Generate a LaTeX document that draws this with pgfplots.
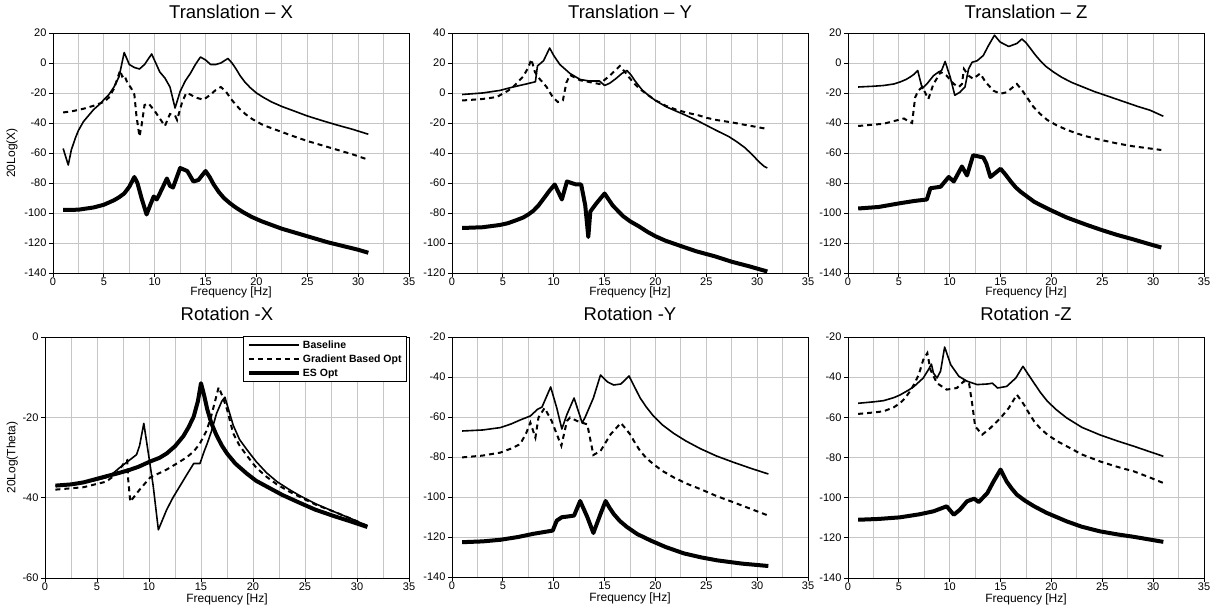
\documentclass[border=0pt]{standalone}
\usepackage{fontspec}
\setmainfont{Liberation Sans}
\usepackage{pgfplots}
\pgfplotsset{compat=1.18}

\pgfplotsset{
  frf/.style={
    scale only axis, anchor=south west,
    width=356pt, height=240pt,
    xmin=0, xmax=35, xtick={0,5,...,35},
    minor x tick num=1,
    grid=both,
    major grid style={gray!45, line width=0.8pt},
    minor grid style={gray!45, line width=0.8pt},
    axis line style={black, line width=0.9pt},
    tick align=outside, tick pos=left,
    major tick length=4pt, minor tick length=0pt,
    tick style={black, line width=0.8pt},
    ticklabel style={font=\fontsize{11}{12}\selectfont},
    /pgf/number format/assume math mode=true,
    xticklabel style={yshift=3pt},
    yticklabel style={xshift=1pt},
    xlabel={Frequency [Hz]},
    xlabel style={font=\fontsize{12}{13}\selectfont, at={(axis description cs:0.5,-0.08)}, anchor=center},
    ylabel style={font=\fontsize{12}{13}\selectfont, anchor=center},
    title style={font=\fontsize{18.5}{20}\selectfont, at={(axis description cs:0.5,1.065)}, anchor=center},
  },
  base/.style={black, line width=1.6pt, line join=round},
  grad/.style={black, line width=2pt, dash pattern=on 5pt off 4pt},
  es/.style={black, line width=4pt, line join=round},
}

\begin{document}
\begin{tikzpicture}
\path[use as bounding box] (0,0) rectangle (1214pt,610pt);

% Translation - X
\begin{axis}[frf, at={(53pt,337pt)},
    ymin=-140, ymax=20, ytick={-140,-120,...,20},
    title={Translation -- X},
    ylabel={20Log(X)},
    ylabel style={at={(axis description cs:-0.115,0.5)}}]
\addplot[base] coordinates {
 (1,-57) (1.5,-68) (1.8,-58) (2.2,-50) (2.5,-45) (3,-39) (3.5,-35) (4,-31) (4.5,-28)
 (5,-24.5) (5.5,-21) (6,-16) (6.5,-9) (7,7) (7.5,-1) (8,-3) (8.5,-4) (9,-1) (9.7,6)
 (10.5,-6) (11,-10) (11.5,-16) (12,-30) (12.5,-19) (13,-12) (13.5,-7) (14,-1) (14.5,4)
 (15,2) (15.5,-1) (16,-1) (16.5,0) (17.2,3) (17.6,0) (18,-4) (18.4,-8.5) (18.9,-13)
 (19.4,-16.5) (20,-20) (20.7,-23) (21.5,-26) (22.5,-29) (23.5,-31.5) (25,-35.3)
 (26.5,-38.5) (28,-41.5) (29.5,-44.3) (31,-47.5)
};
\addplot[grad] coordinates {
 (1,-33) (2,-32) (3,-30.5) (4,-28.5) (5,-26) (5.5,-23) (6,-17) (6.3,-11) (6.6,-5)
 (6.8,-9) (7,-8) (7.3,-13) (7.7,-17) (8,-21) (8.2,-35) (8.5,-49) (8.7,-42) (9,-28)
 (9.4,-27) (10,-32) (10.5,-37) (11,-42) (11.5,-34) (12,-35) (12.2,-38) (12.7,-26)
 (13.1,-20) (13.5,-21) (14,-23) (14.8,-24.5) (15.5,-21) (16,-18) (16.5,-16) (17,-19)
 (17.5,-24) (18,-28) (18.4,-31) (19,-34.5) (19.5,-37) (20,-39) (20.7,-41.5) (21.5,-43.5)
 (22.5,-46) (23.5,-48.5) (25,-52) (26.5,-55) (28,-58) (29.5,-61) (31,-64.5)
};
\addplot[es] coordinates {
 (1,-98) (2.5,-97.8) (4,-96.3) (5,-94.5) (5.5,-93) (6,-91.5) (6.5,-89.5) (7,-87)
 (7.5,-82.5) (8,-76) (8.3,-80) (8.7,-90) (9.2,-101) (9.6,-94) (9.9,-89) (10.2,-91)
 (10.5,-87) (11.2,-77) (11.5,-82) (11.8,-83) (12.5,-70) (13.2,-72) (13.8,-79) (14.3,-78)
 (15,-72) (15.4,-76) (15.8,-81) (16.3,-86) (16.8,-90) (17.4,-93.5) (18,-96.5) (18.7,-99.5)
 (19.5,-102.5) (20.5,-105.5) (21.5,-108) (22.5,-110.5) (24,-113.5) (25.5,-116.5)
 (27,-119.5) (28.5,-122) (30,-124.5) (31,-126.5)
};
\end{axis}

% Translation - Y
\begin{axis}[frf, at={(452pt,337pt)},
    ymin=-120, ymax=40, ytick={-120,-100,...,40},
    title={Translation -- Y}]
\addplot[base] coordinates {
 (1,-1) (3,0) (4.7,1.7) (6,4) (7.3,6) (8.2,7.5) (8.4,18) (9,21.5) (9.6,30) (10,25)
 (10.6,19) (11.6,13) (12.6,9) (13.5,8) (14.5,8) (15,5) (15.5,6.5) (16.1,9.5) (16.7,13)
 (17.2,15) (17.6,12) (18,8) (18.4,4.5) (18.7,2) (19.3,-1.5) (20,-5) (21,-9) (22,-12)
 (22.7,-14) (24,-18) (25,-21.5) (26,-25) (27.2,-29) (28,-32.5) (28.8,-36.5) (29.5,-41)
 (30.2,-46) (30.7,-49) (31,-50)
};
\addplot[grad] coordinates {
 (1,-5) (3,-4) (4.4,-2.7) (5.5,1.5) (6,4) (7,11) (7.5,17) (7.8,22.5) (8.15,14) (8.6,9.5)
 (9.3,4) (9.9,-2.7) (10.4,-6) (10.9,-5) (11.25,7) (11.6,12) (12.6,8.5) (14.5,6)
 (15.5,11.5) (16.5,18) (17,14) (17.4,10.5) (17.9,6.5) (18.4,3) (19,0) (19.5,-2.5)
 (20,-5) (20.5,-6.5) (21,-8.5) (22,-11) (23,-13) (24.3,-15) (25,-16.5) (26,-18)
 (27.6,-19.7) (29,-21.5) (30,-22.7) (31,-24)
};
\addplot[es] coordinates {
 (1,-90) (3,-89.5) (4.7,-88) (5.5,-86.8) (6.4,-84.6) (7,-83) (7.5,-81) (8,-78.5)
 (8.5,-75) (9,-70.5) (9.6,-65) (10.1,-61) (10.8,-71) (11.3,-59) (12.2,-61) (12.7,-61)
 (13.1,-75) (13.4,-96) (13.6,-79) (14.2,-73.5) (15,-67) (15.4,-71) (15.8,-75) (16.3,-78.5)
 (16.8,-82) (17.5,-85.5) (18.4,-89) (19.2,-92.5) (20,-95.5) (21,-98.5) (22.7,-102.5)
 (24,-105.5) (25.9,-109) (27.5,-112.5) (29.2,-115.5) (31,-119)
};
\end{axis}

% Translation - Z
\begin{axis}[frf, at={(848pt,337pt)},
    ymin=-140, ymax=20, ytick={-140,-120,...,20},
    title={Translation -- Z}]
\addplot[base] coordinates {
 (1,-16) (2.5,-15.5) (3.5,-15) (4.5,-14) (5.1,-12.7) (5.7,-11) (6.1,-9.4) (6.5,-7.5)
 (6.85,-5) (7.3,-17) (7.75,-14) (8.4,-8.5) (8.9,-6) (9.2,-5) (9.55,1) (10.05,-9.5)
 (10.5,-21.5) (11,-19.5) (11.5,-16) (11.85,-4) (12.2,0.5) (12.7,1.5) (13.3,5) (13.8,11.5)
 (14.4,18.5) (14.95,14) (15.8,11) (16.6,13) (17.1,16) (17.5,13.5) (17.9,10) (18.4,5.5)
 (18.9,1.5) (19.5,-2.5) (20.2,-6) (21,-9.5) (22,-13) (23.1,-16) (24.2,-19) (25.5,-22)
 (27,-25.5) (28.5,-29) (29.7,-31.5) (31,-35.5)
};
\addplot[grad] coordinates {
 (1,-42) (3.5,-40.5) (5.5,-37) (6.1,-39.5) (6.3,-40) (6.6,-23) (6.9,-18.5) (7.3,-16)
 (7.9,-24) (8.4,-14) (8.9,-8.5) (9.1,-6) (9.7,-8.5) (10.4,-14) (10.9,-16) (11.2,-14)
 (11.4,-4) (11.85,-8.5) (12.3,-10.5) (13,-7) (13.5,-12.5) (14.3,-18.5) (15,-20.5)
 (15.6,-19.5) (16.6,-14) (17.1,-18) (17.6,-23) (18.2,-29) (18.9,-34) (19.6,-38)
 (20.5,-41.5) (21.5,-44.5) (22.5,-47) (23.5,-49) (25,-51.5) (26.5,-53.7) (28,-55.5)
 (29.7,-57) (30.8,-58)
};
\addplot[es] coordinates {
 (1,-97) (3,-96) (5.1,-93.5) (6.5,-92) (7.75,-91) (8.1,-83.5) (9.1,-82.5) (9.9,-76)
 (10.4,-79) (11.2,-69) (11.7,-75) (12.3,-61.5) (13.3,-63) (13.6,-67) (14,-76) (15,-70.5)
 (15.5,-74.5) (16,-79) (16.5,-83) (17,-86) (17.6,-89) (18.3,-92.5) (19,-95) (19.9,-98)
 (20.7,-100.5) (21.5,-103) (22.5,-105.5) (23.5,-108) (25,-111.5) (26.4,-114.5)
 (28,-117.5) (29.5,-120.5) (30.8,-123)
};
\end{axis}

% Rotation - X
\begin{axis}[frf, at={(45pt,32pt)}, width=364pt, height=241pt,
    ymin=-60, ymax=0, ytick={-60,-40,...,0},
    title={Rotation -X},
    title style={at={(axis description cs:0.5,1.07)}},
    xlabel style={at={(axis description cs:0.5,-0.088)}},
    ylabel={20Log(Theta)},
    ylabel style={at={(axis description cs:-0.09,0.5)}},
    legend style={at={(axis description cs:1,1)}, anchor=north east, xshift=-2pt, yshift=1pt,
      draw=black, line width=0.9pt, fill=white,
      font=\bfseries\fontsize{10.5}{11.5}\selectfont,
      inner xsep=3pt, inner ysep=2pt, row sep=1pt},
    legend cell align=left,
    legend image code/.code={\draw[#1] (0pt,0pt) -- (50pt,0pt);}]
\addplot[base] coordinates {
 (1,-37) (2.5,-36.8) (3.7,-36.3) (5,-35.6) (5.9,-35) (6.6,-33.8) (7.2,-32.5) (8.2,-30.5)
 (8.8,-29.3) (9.1,-27) (9.5,-21.5) (10,-30) (10.4,-37) (10.9,-48) (11.3,-45.5) (11.7,-43)
 (12.3,-40) (13,-37) (13.7,-34) (14.3,-31.5) (14.9,-31.5) (15.3,-28.5) (15.6,-26.5)
 (16,-23.5) (16.5,-19) (17,-16) (17.3,-15) (17.7,-18.5) (18.1,-22) (18.7,-25.5)
 (19.4,-28) (20.3,-31) (21.3,-33.8) (22.3,-36) (23.5,-38) (24.5,-39.5) (26,-41.5)
 (27.8,-43.5) (29.5,-45.3) (31,-47)
};
\addlegendentry{Baseline}
\addplot[grad] coordinates {
 (1,-38) (3.7,-37.4) (5.9,-36) (6.9,-34) (7.7,-31) (7.9,-30.7) (8,-35.5) (8.2,-41)
 (9.1,-38) (10.1,-35) (11.7,-33) (12.8,-31.3) (13.6,-30) (14.3,-28.5) (14.9,-26.5)
 (15.5,-23.5) (15.9,-20.5) (16.3,-16.5) (16.7,-12.5) (17.1,-15) (17.5,-18) (18.1,-24)
 (18.7,-27) (19.4,-29.5) (20.3,-32.5) (21.3,-34.8) (22.3,-36.7) (23.5,-38.5) (24.5,-39.8)
 (26,-41.7) (27.8,-43.5) (29.5,-45.3) (31,-47)
};
\addlegendentry{Gradient Based Opt}
\addplot[es] coordinates {
 (1,-37) (2.5,-36.7) (3.7,-36.2) (5,-35.3) (6,-34.6) (6.9,-34) (8,-33.2) (9,-32.3)
 (10.1,-31) (11,-30.1) (11.7,-29) (12.5,-27.2) (13.3,-24.7) (13.8,-22.5) (14.3,-19.8)
 (14.7,-16) (15,-11.5) (15.3,-14.5) (15.6,-18) (16,-21.5) (16.5,-24.5) (17,-27)
 (17.5,-29) (18.3,-31.5) (19.4,-34) (20.3,-35.8) (21.3,-37.2) (22.8,-39.3) (24.5,-41.3)
 (26,-43) (27.8,-44.6) (29.5,-46) (31,-47.3)
};
\addlegendentry{ES Opt}
\end{axis}

% Rotation - Y
\begin{axis}[frf, at={(452pt,33pt)},
    ymin=-140, ymax=-20, ytick={-140,-120,...,-20},
    title={Rotation -Y},
    title style={at={(axis description cs:0.5,1.07)}},
    xlabel style={at={(axis description cs:0.5,-0.088)}}]
\addplot[base] coordinates {
 (1,-67) (3,-66.5) (4.75,-65.3) (5.8,-63.5) (6.7,-61.5) (7.7,-59.5) (8.4,-56.2)
 (8.85,-55) (9.7,-45) (10.3,-55.5) (10.8,-66) (11.3,-58.7) (12,-50.5) (12.8,-63)
 (13.1,-60) (13.9,-50.5) (14.6,-39) (15.3,-42.5) (15.9,-44) (16.6,-43.5) (17.4,-39.5)
 (17.8,-43.5) (18.2,-47.5) (18.5,-50.5) (19.1,-55) (19.8,-59.5) (20.7,-64) (21.8,-68.2)
 (23,-72) (24.4,-75.8) (26,-79.5) (27.7,-82.7) (29.4,-85.7) (31.1,-88.5)
};
\addplot[grad] coordinates {
 (1,-80.2) (3,-79.3) (4.75,-77.8) (5.8,-75.8) (6.7,-73.6) (7.3,-68) (7.7,-62.8)
 (8.2,-70.3) (8.5,-60.3) (9.1,-55.5) (9.8,-62) (10.3,-68.6) (10.75,-74.4) (11.3,-62)
 (11.6,-60.3) (12.3,-62) (13.3,-63.7) (13.9,-79) (14.6,-77) (15.6,-68.6) (16.6,-63)
 (17.1,-66) (17.5,-68.6) (18,-73) (18.5,-77) (19.1,-80.5) (19.8,-83.6) (20.7,-87)
 (21.8,-90.2) (23,-93.2) (24.4,-96) (26,-99.5) (27.7,-102.7) (29.4,-106) (31.1,-109.3)
};
\addplot[es] coordinates {
 (1,-122.6) (3,-122.2) (4.75,-121.4) (6.5,-120) (8,-118.4) (9.9,-116.8) (10.3,-111.8)
 (10.8,-110.1) (11.3,-109.8) (12,-109.3) (12.6,-102) (13.3,-110) (13.9,-118) (14.6,-108.5)
 (15.1,-102) (15.5,-105.5) (15.9,-108.5) (16.5,-112) (17.2,-115) (18.2,-118.5)
 (19.5,-121.7) (21,-125) (22.8,-128.2) (24.5,-130.2) (26.1,-131.7) (28.5,-133.3)
 (31.1,-134.5)
};
\end{axis}

% Rotation - Z
\begin{axis}[frf, at={(848pt,32pt)}, height=241pt,
    ymin=-140, ymax=-20, ytick={-140,-120,...,-20},
    title={Rotation -Z},
    title style={at={(axis description cs:0.5,1.07)}},
    xlabel style={at={(axis description cs:0.5,-0.088)}}]
\addplot[base] coordinates {
 (1,-53) (2.5,-52.3) (3.5,-51.7) (4.5,-50.2) (5.1,-48.9) (6,-46.3) (6.5,-44.6)
 (7.4,-40.4) (7.9,-36.3) (8.2,-33.5) (8.4,-38) (8.75,-40.4) (9.1,-37) (9.5,-25)
 (10.1,-33.8) (10.9,-39.6) (11.7,-42) (12.7,-43.7) (13.7,-43.4) (14.2,-43) (14.7,-45.4)
 (15.6,-44.6) (16.5,-40.4) (17.2,-34.6) (17.7,-38.5) (18.3,-43) (18.9,-47.5) (19.6,-52)
 (20.5,-56.3) (21.5,-60.3) (23,-65) (24.8,-68.8) (26.5,-71.8) (28.1,-74.4) (29.6,-77)
 (31,-79.4)
};
\addplot[grad] coordinates {
 (1,-58.3) (2.5,-57.6) (3.5,-57) (4.5,-55) (5.1,-53) (5.6,-50.5) (6.1,-47) (6.5,-43.5)
 (6.95,-38.8) (7.4,-31.3) (7.8,-28) (8.1,-36.3) (8.75,-43) (9.7,-46.2) (10.7,-45.4)
 (11.4,-42) (11.9,-43) (12.2,-53) (12.5,-64.5) (13.2,-68.6) (14,-65.3) (15,-60.3)
 (15.8,-55.4) (16.6,-48.7) (17,-51.5) (17.3,-53.7) (17.8,-58) (18.3,-62) (18.9,-65.5)
 (19.6,-68.6) (20.5,-71.7) (21.5,-74.4) (23,-78.5) (24.8,-82) (26.5,-84.7) (28.1,-86.9)
 (29.6,-89.8) (31,-92.7)
};
\addplot[es] coordinates {
 (1,-111) (3,-110.6) (5.1,-109.8) (7,-108.3) (8.4,-106.8) (9.7,-104.3) (10.4,-108.5)
 (11,-106) (11.7,-101.8) (12.4,-100.5) (12.85,-102.2) (13.7,-97.7) (14.3,-92) (15,-86)
 (15.3,-89) (15.6,-92) (16.1,-95.5) (16.6,-98.5) (17.4,-101.5) (18.3,-104.3) (19.5,-107.5)
 (21.5,-111.8) (23,-114.5) (24.8,-116.8) (26.5,-118.3) (28.1,-119.5) (31,-122)
};
\end{axis}
\end{tikzpicture}
\end{document}
